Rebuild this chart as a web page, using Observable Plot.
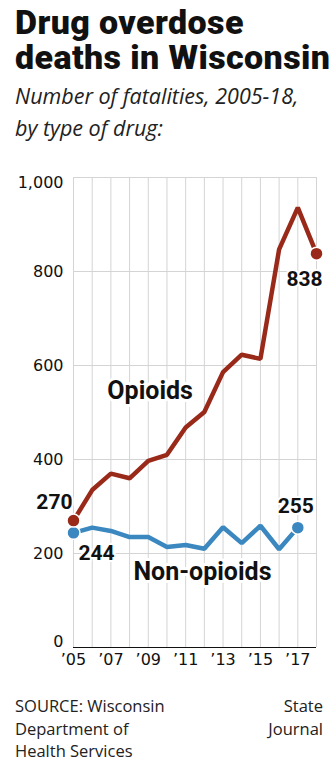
<!DOCTYPE html>
<html><head><meta charset="utf-8">
<script src="https://cdn.jsdelivr.net/npm/d3@7"></script>
<script src="https://cdn.jsdelivr.net/npm/@observablehq/plot@0.6"></script>
<style>
html,body{margin:0;padding:0;background:#fff;width:336px;height:780px;overflow:hidden}
#wrap{position:relative;width:336px;height:780px}
#title{position:absolute;left:15px;top:5px;font-family:Roboto;font-weight:900;font-size:34px;line-height:35px;letter-spacing:0.4px;color:#111;white-space:nowrap}
#sub{position:absolute;left:15px;top:80px;font-family:"Open Sans";font-style:italic;font-size:21.5px;line-height:32px;color:#222;white-space:nowrap}
#chart{position:absolute;left:0;top:160px}
#src{position:absolute;left:15px;top:695px;font-family:"Open Sans";font-size:16.5px;line-height:22.5px;color:#222;white-space:nowrap}
#credit{position:absolute;right:13px;top:695px;text-align:right;font-family:"Open Sans";font-size:16.5px;line-height:22.5px;color:#222;white-space:nowrap}
</style>
</head><body>
<div id="wrap">
<div id="title">Drug overdose<br>deaths in Wisconsin</div>
<div id="sub">Number of fatalities, 2005-18,<br>by type of drug:</div>
<div id="chart"></div>
<div id="src">SOURCE: Wisconsin<br>Department of<br>Health Services</div>
<div id="credit">State<br>Journal</div>
</div>
<script>
const opioidYears = [2005,2006,2007,2008,2009,2010,2011,2012,2013,2014,2015,2016,2017,2018];
const opioids = [270,335,370,360,397,410,468,501,586,623,614,847,936,838];
const nonOpioidYears = [2005,2006,2007,2008,2009,2010,2011,2012,2013,2014,2015,2016,2017];
const nonOpioids = [244,255,248,235,235,214,218,210,256,222,259,209,255];
const gridYears = [2005,2006,2007,2008,2009,2010,2011,2012,2013,2014,2015,2016,2017,2018];
const xTickYears = [2005,2007,2009,2011,2013,2015,2017];
const yTicks = [0,200,400,600,800,1000];
const seriesNames = ["Opioids","Non-opioids"];

const RED = "#992a1a", BLUE = "#3b87bf", GRID = "#d4d4d4";
const opData = opioidYears.map((y,i)=>({year:y, value:opioids[i]}));
const nonData = nonOpioidYears.map((y,i)=>({year:y, value:nonOpioids[i]}));
const opFirst = opData[0], opLast = opData[opData.length-1];
const nonFirst = nonData[0], nonLast = nonData[nonData.length-1];

const labelStyle = {fontFamily:"Roboto", fontWeight:700, fontSize:21, fill:"#111", stroke:"#fff", strokeWidth:4, text: d=>d.value};

const chart = Plot.plot({
  width:336, height:520,
  marginTop:17, marginBottom:33, marginLeft:73, marginRight:20,
  style:{fontFamily:"'DejaVu Sans'", fontSize:"16px", color:"#111", background:"transparent"},
  x:{type:"linear", domain:[2005,2018]},
  y:{domain:[0,1000]},
  marks:[
    Plot.gridX(gridYears, {stroke:GRID, strokeOpacity:1, strokeWidth:1}),
    Plot.gridY(yTicks, {stroke:GRID, strokeOpacity:1, strokeWidth:1}),
    Plot.ruleY([0], {stroke:"#111", strokeWidth:1.2}),
    Plot.axisX(xTickYears, {tickSize:0, tickPadding:6, label:null, tickFormat:d=>"\u2019"+String(d).slice(2), fontSize:16}),
    Plot.axisY(yTicks.filter(d=>d>0 && d<1000), {tickSize:0, tickPadding:10, label:null, tickFormat:d3.format(","), fontSize:16}),
    Plot.axisY([0], {tickSize:0, tickPadding:10, label:null, dy:-6, fontSize:16}),
    Plot.axisY([1000], {tickSize:0, tickPadding:10, label:null, dy:5, tickFormat:d3.format(","), fontSize:16}),
    Plot.text([seriesNames[0]], {x:()=>2009.1, y:()=>545, text:d=>d, fontFamily:"Roboto", fontWeight:700, fontSize:25, fill:"#111", stroke:"#fff", strokeWidth:6}),
    Plot.text([seriesNames[1]], {x:()=>2011.9, y:()=>160, text:d=>d, fontFamily:"Roboto", fontWeight:700, fontSize:25, fill:"#111", stroke:"#fff", strokeWidth:6}),
    Plot.line(nonData, {x:"year", y:"value", stroke:BLUE, strokeWidth:4.5, strokeLinejoin:"miter"}),
    Plot.line(opData, {x:"year", y:"value", stroke:RED, strokeWidth:4.5, strokeLinejoin:"miter"}),
    Plot.dot([nonFirst, nonLast], {x:"year", y:"value", r:6.5, fill:BLUE, stroke:"#fff", strokeWidth:1.5}),
    Plot.dot([opFirst, opLast], {x:"year", y:"value", r:6.5, fill:RED, stroke:"#fff", strokeWidth:1.5}),
    Plot.text([opFirst], {x:"year", y:"value", textAnchor:"end", dx:-1, dy:-18, ...labelStyle}),
    Plot.text([nonFirst], {x:"year", y:"value", textAnchor:"start", dx:5, dy:20, ...labelStyle}),
    Plot.text([nonLast], {x:"year", y:"value", textAnchor:"middle", dx:-2, dy:-21, ...labelStyle}),
    Plot.text([opLast], {x:"year", y:"value", textAnchor:"middle", dx:-12, dy:26, ...labelStyle})
  ]
});
document.getElementById("chart").appendChild(chart);
</script>
</body></html>
